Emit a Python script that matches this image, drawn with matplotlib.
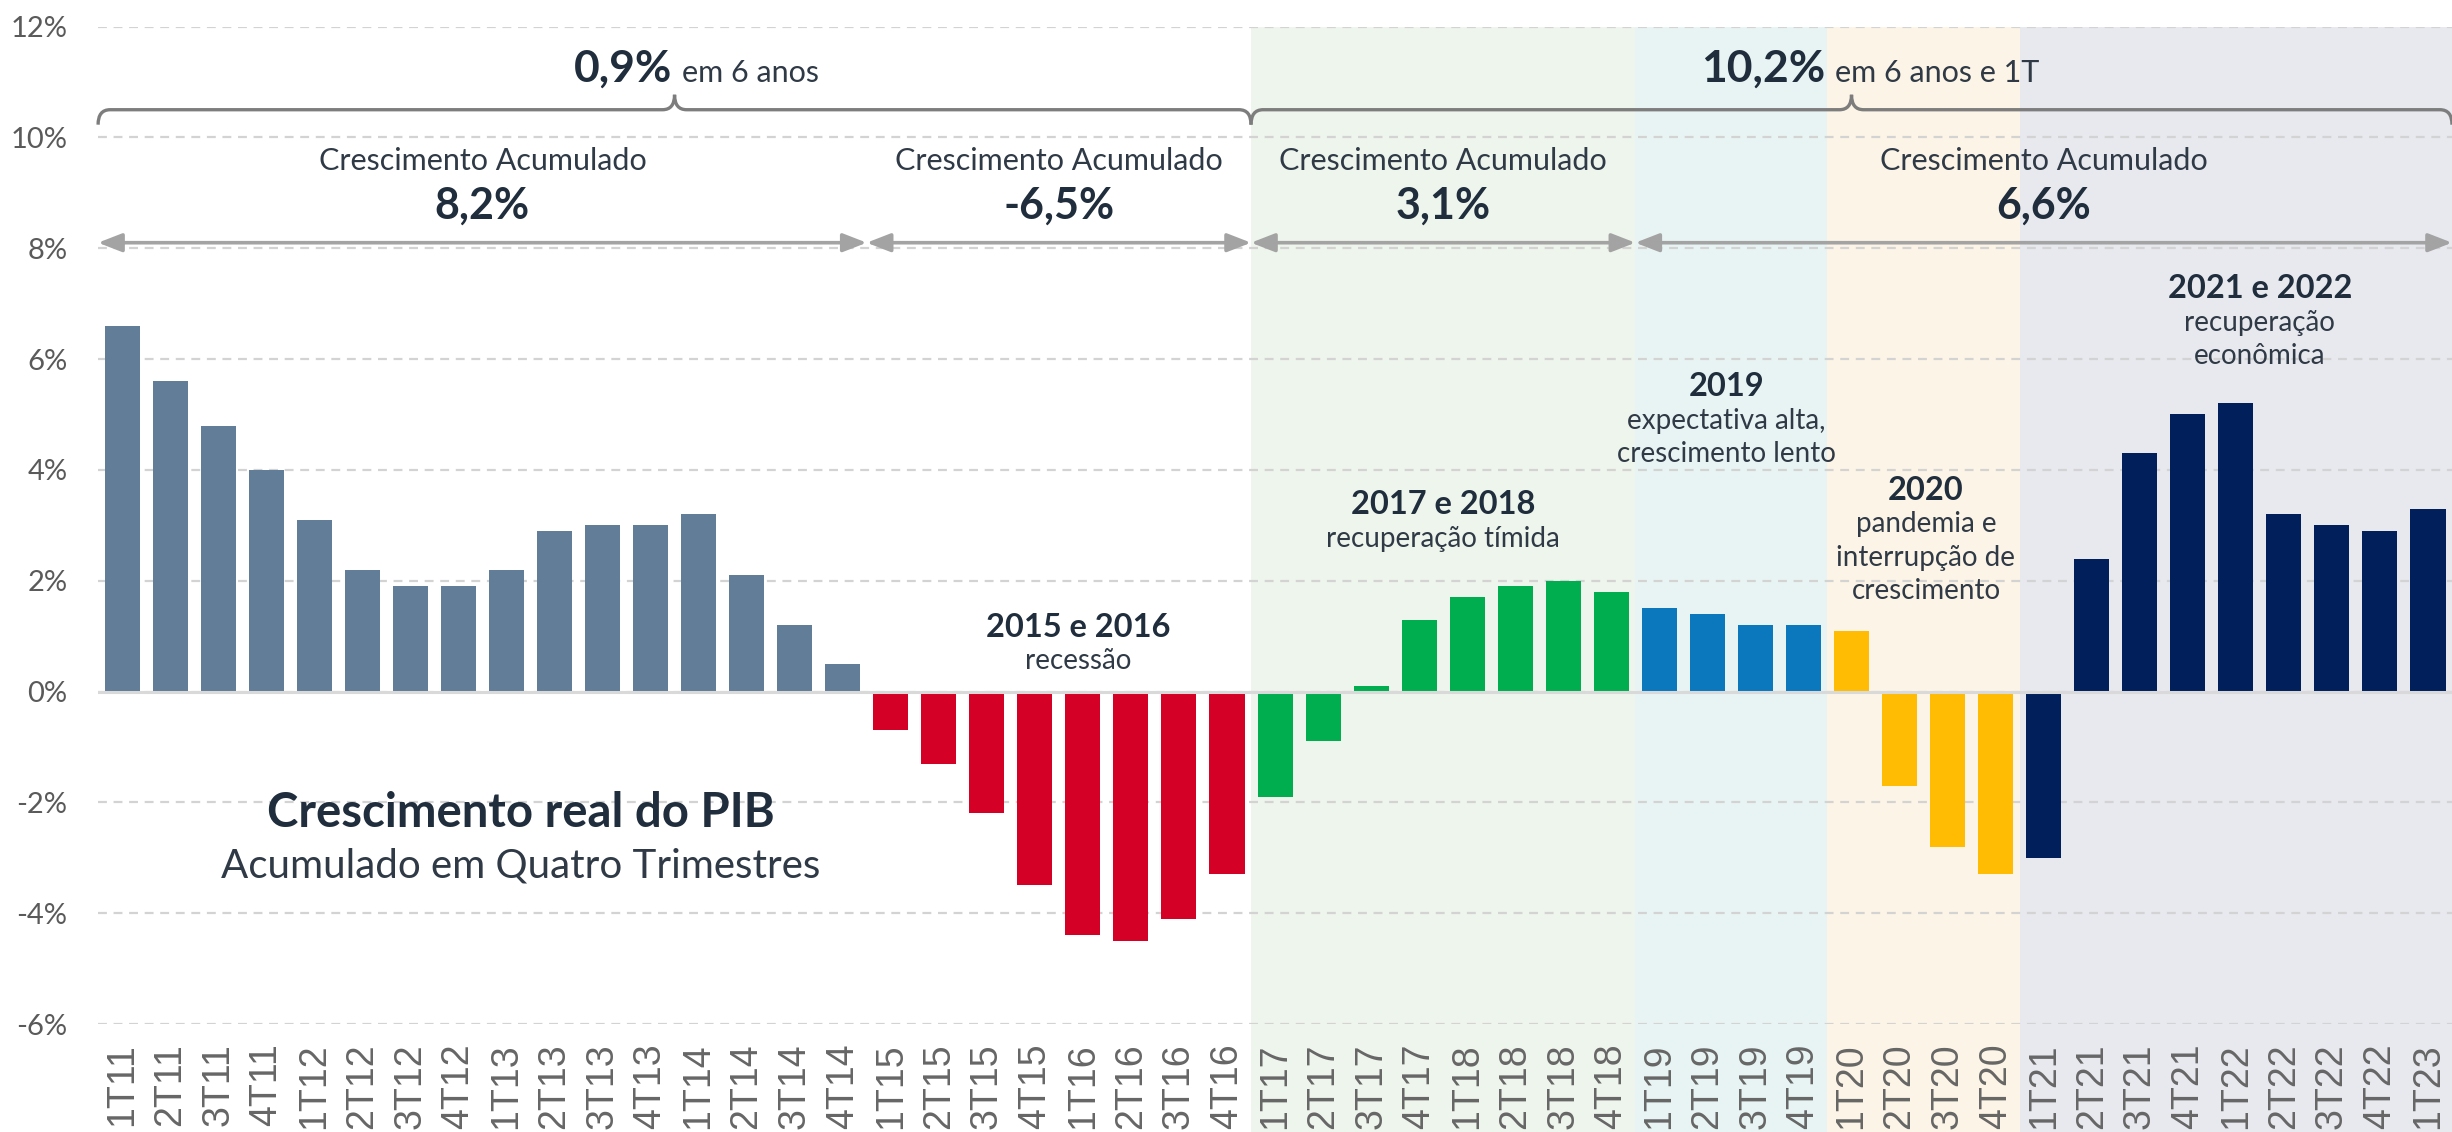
import matplotlib
matplotlib.use('Agg')
import matplotlib.pyplot as plt
from matplotlib.patches import Rectangle, PathPatch
from matplotlib.path import Path

# ---------------- data ----------------
quarters = ['1T11', '2T11', '3T11', '4T11', '1T12', '2T12', '3T12', '4T12',
            '1T13', '2T13', '3T13', '4T13', '1T14', '2T14', '3T14', '4T14',
            '1T15', '2T15', '3T15', '4T15', '1T16', '2T16', '3T16', '4T16',
            '1T17', '2T17', '3T17', '4T17', '1T18', '2T18', '3T18', '4T18',
            '1T19', '2T19', '3T19', '4T19', '1T20', '2T20', '3T20', '4T20',
            '1T21', '2T21', '3T21', '4T21', '1T22', '2T22', '3T22', '4T22',
            '1T23']
values = [6.6, 5.6, 4.8, 4.0, 3.1, 2.2, 1.9, 1.9,
          2.2, 2.9, 3.0, 3.0, 3.2, 2.1, 1.2, 0.5,
          -0.7, -1.3, -2.2, -3.5, -4.4, -4.5, -4.1, -3.3,
          -1.9, -0.9, 0.1, 1.3, 1.7, 1.9, 2.0, 1.8,
          1.5, 1.4, 1.2, 1.2, 1.1, -1.7, -2.8, -3.3,
          -3.0, 2.4, 4.3, 5.0, 5.2, 3.2, 3.0, 2.9,
          3.3]

period_sizes = [16, 8, 8, 4, 4, 9]          # quarters per period
period_bar_colors = ['#627d98', '#d50026', '#00ad4f', '#0b78be', '#ffbc03', '#001f5b']
period_shades = [None, None, '#eef5ec', '#e8f4f3', '#fcf4e6', '#e8e9ee']

acc_sizes = [16, 8, 8, 17]                  # quarters per "Crescimento Acumulado" span
acc_values = ['8,2%', '-6,5%', '3,1%', '6,6%']

brace_sizes = [24, 25]
brace_values = ['0,9%', '10,2%']
brace_suffix = ['em 6 anos', 'em 6 anos e 1T']
brace_text_shift = [0.0, -0.5]

era_titles = ['2015 e 2016', '2017 e 2018', '2019', '2020', '2021 e 2022']
era_texts = ['recessão', 'recuperação tímida', 'expectativa alta,\ncrescimento lento',
             'pandemia e\ninterrupção de\ncrescimento', 'recuperação\neconômica']

yticks = [-6, -4, -2, 0, 2, 4, 6, 8, 10, 12]

# ---------------- style ----------------
plt.rcParams['font.family'] = ['Lato', 'DejaVu Sans']
DARK = '#1f2d3c'
MID = '#2f3a46'

fig = plt.figure(figsize=(24.52, 11.32), dpi=100)
ax = fig.add_axes([0.040, 0.0954, 0.960, 0.8811])

n = len(values)
x = list(range(n))

bar_colors = []
for size, c in zip(period_sizes, period_bar_colors):
    bar_colors += [c] * size

# background shading
start = 0
for size, shade in zip(period_sizes, period_shades):
    if shade is not None:
        ax.add_patch(Rectangle((start - 0.5, -9), size, 21, facecolor=shade,
                               edgecolor='none', zorder=0, clip_on=False))
    start += size

ax.bar(x, values, width=0.73, color=bar_colors, zorder=2)
ax.axhline(0, color='#d9d9d9', lw=2.2, zorder=3)

ax.set_xlim(-0.5, n - 0.5)
ax.set_ylim(-6, 12)
ax.set_yticks(yticks)
ax.set_yticklabels([f'{v}%' for v in yticks], fontsize=21, color='#5a5a5a')
ax.set_xticks(x)
ax.set_xticklabels(quarters, rotation=90, fontsize=27, color='#666666',
                   family='Liberation Sans')
ax.tick_params(axis='both', length=0)
ax.tick_params(axis='y', pad=22)
ax.tick_params(axis='x', pad=14)
for s in ax.spines.values():
    s.set_visible(False)
ax.set_axisbelow(True)
ax.yaxis.grid(True, linestyle=(0, (4, 3)), color='#d3d3d3', lw=1.6, zorder=1)
ax.set_facecolor('none')

# ---------------- braces ----------------
def brace(x0, x1, y, h=0.27, d=0.25):
    xm = (x0 + x1) / 2
    verts = [(x0, y - h), (x0, y), (x0 + d, y),
             (xm - d, y), (xm, y), (xm, y + h),
             (xm, y), (xm + d, y),
             (x1 - d, y), (x1, y), (x1, y - h)]
    codes = [Path.MOVETO, Path.CURVE3, Path.CURVE3,
             Path.LINETO, Path.CURVE3, Path.CURVE3,
             Path.CURVE3, Path.CURVE3,
             Path.LINETO, Path.CURVE3, Path.CURVE3]
    ax.add_patch(PathPatch(Path(verts, codes), facecolor='none',
                           edgecolor='#7d7d7d', lw=2.4, zorder=4, clip_on=False))
    return xm

start = -0.5
for size, val, suf, sh in zip(brace_sizes, brace_values, brace_suffix, brace_text_shift):
    xm = brace(start, start + size, 10.5)
    ax.text(xm + sh - 0.05, 11.0, val, ha='right', va='baseline', fontsize=32,
            fontweight='bold', color=DARK, zorder=5)
    ax.text(xm + sh + 0.15, 11.0, suf, ha='left', va='baseline', fontsize=22,
            color=MID, zorder=5)
    start += size

# ---------------- accumulated arrows ----------------
start = -0.5
for size, val in zip(acc_sizes, acc_values):
    ax.annotate('', xy=(start + size, 8.1), xytext=(start, 8.1),
                arrowprops=dict(arrowstyle='<|-|>,head_length=0.9,head_width=0.35',
                                mutation_scale=16, color='#a3a3a3', lw=2.6,
                                shrinkA=0, shrinkB=0),
                zorder=4, annotation_clip=False)
    xm = start + size / 2
    ax.text(xm, 9.57, 'Crescimento Acumulado', ha='center', va='center',
            fontsize=22, color=MID, zorder=5)
    ax.text(xm, 8.77, val, ha='center', va='center', fontsize=31,
            fontweight='bold', color=DARK, zorder=5)
    start += size

# ---------------- era notes ----------------
era_x = [19.9, 27.5, 33.4, 37.55, 44.5]
era_y = [1.16, 3.37, 5.5, 3.63, 7.27]
for ex, ey, t, s in zip(era_x, era_y, era_titles, era_texts):
    ax.text(ex, ey, t, ha='center', va='center', fontsize=23.5,
            fontweight='bold', color=DARK, zorder=5)
    ax.text(ex, ey - 0.38, s, ha='center', va='top', fontsize=20,
            color=MID, linespacing=1.35, zorder=5)

# ---------------- title ----------------
ax.text(8.3, -2.2, 'Crescimento real do PIB', ha='center', va='center',
        fontsize=34, fontweight='bold', color=DARK, zorder=5)
ax.text(8.3, -3.15, 'Acumulado em Quatro Trimestres', ha='center', va='center',
        fontsize=29, color=MID, zorder=5)

fig.savefig('out.png', dpi=100)
